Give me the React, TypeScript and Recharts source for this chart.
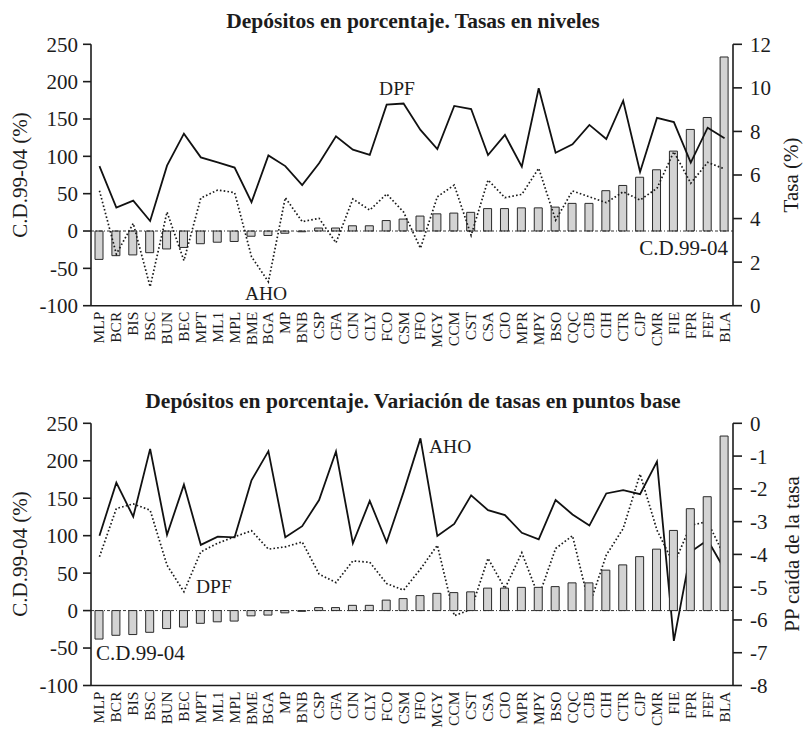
import { ComposedChart, Bar, Line, XAxis, YAxis, ReferenceLine } from "recharts"

const FONT = '"Liberation Serif", "Times New Roman", serif'
const INK = "#1c1c1c"

const categories = [
  "MLP", "BCR", "BIS", "BSC", "BUN", "BEC", "MPT", "ML1", "MPL", "BME",
  "BGA", "MP", "BNB", "CSP", "CFA", "CJN", "CLY", "FCO", "CSM", "FFO",
  "MGY", "CCM", "CST", "CSA", "CJO", "MPR", "MPY", "BSO", "CQC", "CJB",
  "CIH", "CTR", "CJP", "CMR", "FIE", "FPR", "FEF", "BLA",
]

// crecimiento de depósitos 1999-2004 (%)
const cd9904 = [
  -38, -33, -32, -29, -24, -22, -17, -15, -14, -7,
  -6, -3, -1, 4, 4, 7, 7, 14, 16, 20,
  23, 24, 25, 30, 30, 31, 31, 32, 37, 37,
  54, 61, 72, 82, 107, 136, 152, 233,
]

// tasas en niveles (%)
const tasaDPF = [
  6.41, 4.5, 4.82, 3.89, 6.43, 7.9, 6.81, 6.58, 6.34, 4.75,
  6.9, 6.41, 5.54, 6.54, 7.78, 7.16, 6.92, 9.23, 9.28, 8.07,
  7.19, 9.17, 9.03, 6.92, 7.84, 6.38, 9.98, 7.02, 7.41, 8.3,
  7.65, 9.41, 6.14, 8.62, 8.43, 6.57, 8.17, 7.69,
]
const tasaAHO = [
  5.28, 2.37, 3.78, 0.87, 4.3, 2.07, 4.94, 5.31, 5.19, 2.25,
  1.1, 4.96, 3.86, 4.01, 2.89, 4.9, 4.39, 5.13, 4.3, 2.64,
  5.0, 5.54, 3.23, 5.77, 4.96, 5.11, 6.31, 3.93, 5.27, 5.0,
  4.73, 5.23, 4.85, 5.39, 7.07, 5.62, 6.58, 6.28,
]

// caída de la tasa en puntos porcentuales
const caidaAHO = [
  -3.43, -1.81, -2.85, -0.78, -3.4, -1.87, -3.71, -3.46, -3.48, -1.74,
  -0.85, -3.48, -3.14, -2.34, -0.86, -3.66, -2.37, -3.63, -2.1, -0.46,
  -3.44, -3.07, -2.2, -2.65, -2.8, -3.34, -3.54, -2.34, -2.78, -3.12,
  -2.14, -2.04, -2.16, -1.17, -6.64, -3.92, -3.56, -4.46,
]
const caidaDPF = [
  -4.07, -2.6, -2.46, -2.65, -4.33, -5.14, -3.92, -3.66, -3.46, -3.28,
  -3.84, -3.77, -3.62, -4.6, -4.86, -4.2, -4.24, -4.89, -5.09, -4.45,
  -3.72, -5.87, -5.68, -4.12, -5.04, -3.95, -5.29, -3.82, -3.43, -5.55,
  -4.02, -3.21, -1.55, -3.26, -4.3, -3.11, -3.0, -4.07,
]

const leftTicks = [-100, -50, 0, 50, 100, 150, 200, 250]
const tasaTicks = [0, 2, 4, 6, 8, 10, 12]
const caidaTicks = [-8, -7, -6, -5, -4, -3, -2, -1, 0]

const nivelesData = categories.map((name, i) => ({
  name,
  cd: cd9904[i],
  solid: tasaDPF[i],
  dotted: tasaAHO[i],
}))

const variacionData = categories.map((name, i) => ({
  name,
  cd: cd9904[i],
  solid: caidaAHO[i],
  dotted: caidaDPF[i],
}))

function CategoryTick(props: any) {
  const { x, y, payload } = props
  return (
    <text
      transform={`translate(${x + 5},${y}) rotate(-90)`}
      textAnchor="end"
      fontSize={15.5}
      fontFamily={FONT}
      fill={INK}
    >
      {payload.value}
    </text>
  )
}

const tickStyle = { fill: INK, fontSize: 21, fontFamily: FONT }

function Panel(props: {
  data: any[]
  height: number
  xAxisHeight: number
  rightDomain: [number, number]
  rightTicks: number[]
  barsOnTop: boolean
}) {
  const { data, height, xAxisHeight, rightDomain, rightTicks, barsOnTop } = props
  const bars = (
    <Bar
      key="bars"
      yAxisId="left"
      dataKey="cd"
      barSize={8}
      fill="#d3d3d3"
      stroke="#2a2a2a"
      strokeWidth={1}
      isAnimationActive={false}
      {...(barsOnTop ? { zIndex: 450 } : {})}
    />
  )
  const lines = [
    <Line
      key="solid"
      yAxisId="right"
      dataKey="solid"
      type="linear"
      stroke="#111"
      strokeWidth={1.8}
      dot={false}
      isAnimationActive={false}
    />,
    <Line
      key="dotted"
      yAxisId="right"
      dataKey="dotted"
      type="linear"
      stroke="#1a1a1a"
      strokeWidth={1.7}
      strokeDasharray="1.6 2.2"
      dot={false}
      isAnimationActive={false}
    />,
  ]
  return (
    <ComposedChart
      width={803}
      height={height}
      data={data}
      margin={{ top: 44.3, right: 0, bottom: 0, left: 0 }}
    >
      <XAxis
        dataKey="name"
        interval={0}
        height={xAxisHeight}
        tickLine={false}
        tickSize={0}
        tickMargin={6}
        axisLine={{ stroke: INK, strokeWidth: 1.6 }}
        tick={<CategoryTick />}
      />
      <YAxis
        yAxisId="left"
        orientation="left"
        width={91}
        domain={[-100, 250]}
        ticks={leftTicks}
        interval={0}
        tickSize={8}
        tickMargin={5}
        axisLine={{ stroke: INK, strokeWidth: 1.6 }}
        tickLine={{ stroke: INK, strokeWidth: 1.6 }}
        tick={tickStyle}
      />
      <YAxis
        yAxisId="right"
        orientation="right"
        width={70}
        domain={rightDomain}
        ticks={rightTicks}
        interval={0}
        tickSize={9}
        tickMargin={8}
        axisLine={{ stroke: INK, strokeWidth: 1.6 }}
        tickLine={{ stroke: INK, strokeWidth: 1.6 }}
        tick={tickStyle}
      />
      <ReferenceLine
        yAxisId="left"
        y={0}
        stroke="#333"
        strokeWidth={1}
        strokeDasharray="3 2 1 2"
      />
      {barsOnTop ? [...lines, bars] : [bars, ...lines]}
    </ComposedChart>
  )
}

const txt = { fontFamily: FONT, fill: INK }

export default function App() {
  return (
    <div style={{ position: "absolute", left: 0, top: 0, width: 803, height: 729, background: "#fff" }}>
      <div style={{ position: "absolute", left: 0, top: 0 }}>
        <Panel
          data={nivelesData}
          height={360}
          xAxisHeight={54.3}
          rightDomain={[0, 12]}
          rightTicks={tasaTicks}
          barsOnTop={false}
        />
      </div>
      <div style={{ position: "absolute", left: 0, top: 379 }}>
        <Panel
          data={variacionData}
          height={350}
          xAxisHeight={43.5}
          rightDomain={[-8, 0]}
          rightTicks={caidaTicks}
          barsOnTop={true}
        />
      </div>
      <svg
        width={803}
        height={729}
        style={{ position: "absolute", left: 0, top: 0, pointerEvents: "none" }}
      >
        <text x={413} y={28} textAnchor="middle" fontSize={21.5} fontWeight="bold" {...txt}>
          Depósitos en porcentaje. Tasas en niveles
        </text>
        <text x={413} y={408} textAnchor="middle" fontSize={21.5} fontWeight="bold" {...txt}>
          Depósitos en porcentaje. Variación de tasas en puntos base
        </text>

        <text transform="translate(27,175) rotate(-90)" textAnchor="middle" fontSize={21} {...txt}>
          C.D.99-04 (%)
        </text>
        <text transform="translate(27,554) rotate(-90)" textAnchor="middle" fontSize={21} {...txt}>
          C.D.99-04 (%)
        </text>
        <text transform="translate(798,175) rotate(-90)" textAnchor="middle" fontSize={21} {...txt}>
          Tasa (%)
        </text>
        <text transform="translate(799,554) rotate(-90)" textAnchor="middle" fontSize={21} {...txt}>
          PP caída de la tasa
        </text>

        <text x={397} y={95} textAnchor="middle" fontSize={19.5} {...txt}>DPF</text>
        <text x={266} y={300} textAnchor="middle" fontSize={19.5} {...txt}>AHO</text>
        <text x={728} y={255} textAnchor="end" fontSize={21} {...txt}>C.D.99-04</text>

        <text x={429} y={453} fontSize={19.5} {...txt}>AHO</text>
        <text x={196} y={593} fontSize={19.5} {...txt}>DPF</text>
        <text x={96} y={660} fontSize={21} {...txt}>C.D.99-04</text>
      </svg>
    </div>
  )
}
